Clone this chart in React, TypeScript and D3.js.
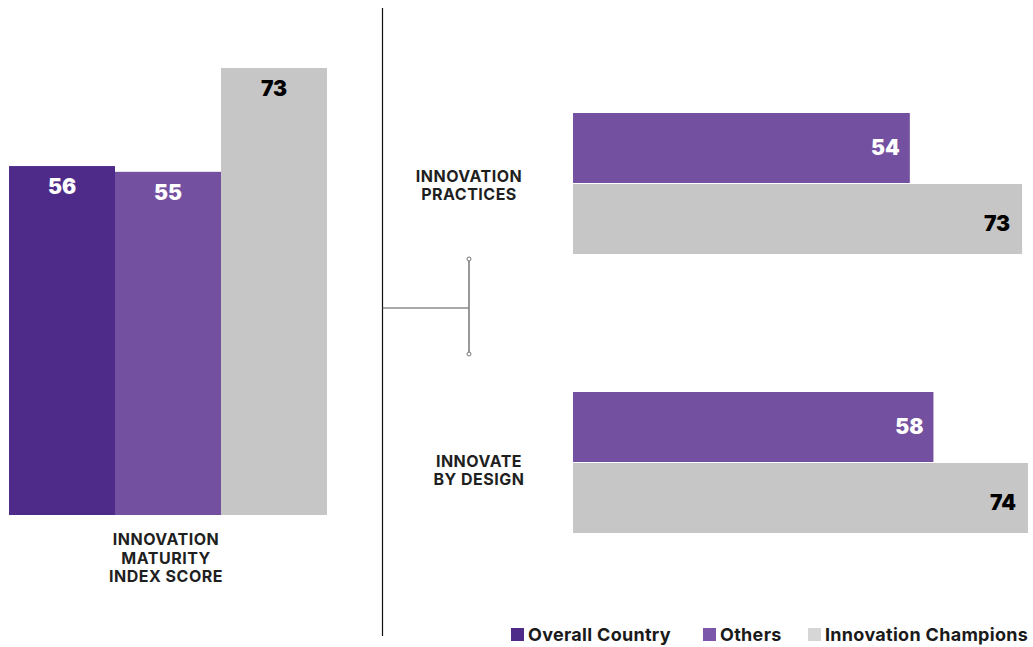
import React from "react";
import * as d3 from "d3";

const mainSeries = ["Overall Country", "Others", "Innovation Champions"];
const mainValues = [56, 55, 73];
const mainLabel = ["INNOVATION", "MATURITY", "INDEX SCORE"];

const subCategories = [["INNOVATION", "PRACTICES"], ["INNOVATE", "BY DESIGN"]];
const subOthers = [54, 58];
const subChampions = [73, 74];

const colors = ["#4f2b89", "#7350a0", "#c6c6c6"];
const legendColors = ["#4f2b89", "#7a57a8", "#d6d6d6"];
const labelColors = ["#ffffff", "#ffffff", "#000000"];

const FONT = "Inter, 'Liberation Sans', Arial, sans-serif";

export default function App() {
  const W = 1033, H = 647;
  const x = d3.scaleBand<string>().domain(mainSeries).range([9, 327]).padding(0);
  const y = d3.scaleLinear().domain([-4.5, 73]).range([515, 68]);

  const rx = d3.scaleLinear().domain([-3, 74]).range([573, 1028]);
  const groupTops = [113, 392];
  const barH = 70;

  return (
    <div style={{ position: "fixed", left: 0, top: 0 }}>
      <svg width={W} height={H} style={{ display: "block" }} fontFamily={FONT}>
        <rect width={W} height={H} fill="#fff" />
        {mainSeries.map((s, i) => {
          const x0 = x(s)!;
          const yy = y(mainValues[i]);
          return (
            <g key={s}>
              <rect x={x0} y={yy} width={x.bandwidth()} height={y(-4.5) - yy} fill={colors[i]} />
              <text x={x0 + x.bandwidth() / 2} y={yy + 28} textAnchor="middle" fontSize={21} fontWeight={900} fill={labelColors[i]}>
                {mainValues[i]}
              </text>
            </g>
          );
        })}
        {mainLabel.map((t, i) => (
          <text key={t} x={166} y={545 + i * 18.5} textAnchor="middle" fontSize={16} fontWeight={700} letterSpacing={0.5} fill="#1f1f1f">
            {t}
          </text>
        ))}

        <line x1={382.5} x2={382.5} y1={8} y2={636} stroke="#111" strokeWidth={1.2} />
        <line x1={382.5} x2={469} y1={308} y2={308} stroke="#555" strokeWidth={1.2} />
        <line x1={469} x2={469} y1={259} y2={354} stroke="#777" strokeWidth={1.5} />
        <circle cx={469} cy={259} r={2} fill="#fff" stroke="#777" strokeWidth={1} />
        <circle cx={469} cy={354} r={2} fill="#fff" stroke="#777" strokeWidth={1} />

        {subCategories.map((cat, gi) => {
          const top = groupTops[gi];
          const o = subOthers[gi];
          const c = subChampions[gi];
          const cx = gi === 0 ? 469 : 479;
          return (
            <g key={gi}>
              <rect x={rx(-3)} y={top} width={rx(o) - rx(-3)} height={barH} fill={colors[1]} />
              <rect x={rx(-3)} y={top + barH + 1} width={rx(c) - rx(-3)} height={barH} fill={colors[2]} />
              <text x={rx(o) - 10} y={top + 42} textAnchor="end" fontSize={21} fontWeight={900} fill="#fff">{o}</text>
              <text x={rx(c) - 12} y={top + barH + 1 + 47} textAnchor="end" fontSize={21} fontWeight={900} fill="#000">{c}</text>
              {cat.map((t, li) => (
                <text key={t} x={cx} y={top + (gi === 0 ? 69 : 75) + li * 18} textAnchor="middle" fontSize={16} fontWeight={700} letterSpacing={0.5} fill="#1f1f1f">
                  {t}
                </text>
              ))}
            </g>
          );
        })}

        {mainSeries.map((s, i) => {
          const lx = [511, 703, 808][i];
          return (
            <g key={"lg" + s}>
              <rect x={lx} y={628} width={13} height={13} fill={legendColors[i]} />
              <text x={lx + 17} y={641} fontSize={18} fontWeight={700} letterSpacing={0.3} fill="#1a1a1a">{s}</text>
            </g>
          );
        })}
      </svg>
    </div>
  );
}
